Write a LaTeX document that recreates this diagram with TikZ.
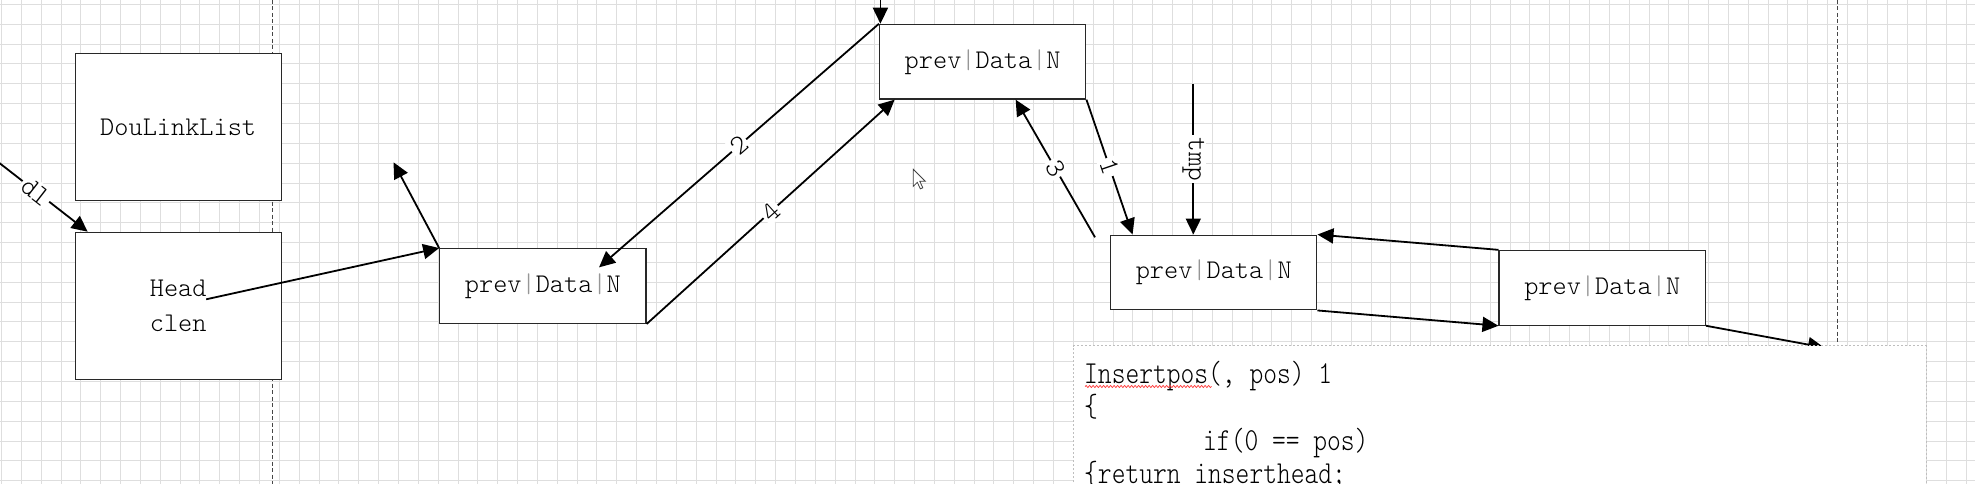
\documentclass[tikz,border=0pt]{standalone}
\usepackage{fontspec}
\usetikzlibrary{arrows.meta,calc,decorations.pathmorphing}
\newfontfamily\nodefont{lmmonolt10-regular.otf}
\newfontfamily\codefont{lmmonolt10-regular.otf}[FakeStretch=0.82]
\definecolor{gridc}{RGB}{222,222,222}
\definecolor{boxc}{RGB}{40,40,40}
\definecolor{barc}{RGB}{150,150,150}
\definecolor{dashc}{RGB}{70,70,70}
\definecolor{codebd}{RGB}{190,190,190}
\newcommand{\cellbar}{{\color{barc}|}}
\begin{document}
\begin{tikzpicture}[x=1pt,y=-1pt,
  gridline/.style={gridc,line width=0.9pt},
  sepline/.style={dashc,line width=1pt,dash pattern=on 4pt off 2.5pt},
  box/.style={draw=boxc,fill=white,line width=1.2pt,inner sep=0pt,font=\nodefont\fontsize{27}{35}\selectfont},
  bigbox/.style={box,minimum width=205.8pt,minimum height=147pt},
  cell/.style={box,minimum width=206.3pt,minimum height=74.7pt},
  link/.style={line width=1.8pt,-{Triangle[length=16pt,width=15pt]}},
  lab/.style={fill=white,inner sep=2pt,font=\nodefont\fontsize{28}{28}\selectfont},
  codeline/.style={anchor=base west,inner sep=0pt,font=\codefont\fontsize{32}{33}\selectfont}
]
\useasboundingbox (0,0) rectangle (1975,484);
\clip (0,0) rectangle (1975,484);
\fill[white] (0,0) rectangle (1975,484);
% grid
\foreach \i in {0,...,99} {\draw[gridline] ({1.4+19.85*\i},0) -- ({1.4+19.85*\i},484);}
\foreach \j in {0,...,24} {\draw[gridline] (0,{4.3+19.85*\j}) -- (1975,{4.3+19.85*\j});}
% separators
\draw[sepline] (272.7,0) -- (272.7,484);
\draw[sepline] (1837,0) -- (1837,484);
% nodes
\node[bigbox] (dll) at (178.2,127.3) {DouLinkList};
\node[bigbox,align=center] (head) at (178.2,305.8) {Head\\clen};
\node[cell] (n1) at (542.9,286) {prev\cellbar Data\cellbar N};
\node[cell] (n2) at (982.7,61.7) {prev\cellbar Data\cellbar N};
\node[cell] (n3) at (1213.7,272.5) {prev\cellbar Data\cellbar N};
\node[cell] (n4) at (1602.2,287.8) {prev\cellbar Data\cellbar N};
% free ends
\coordinate (dlfrom) at (-10,155.7);
\coordinate (hp) at (206.2,299.3);
\coordinate (upl) at (393.5,162.3);
\coordinate (topfrom) at (880.4,-5);
\coordinate (c3) at (1095,237.3);
\coordinate (tmpfrom) at (1193.3,84.3);
\coordinate (offend) at (1824,347.5);
% connectors
\draw[link] (dlfrom) -- node[lab,sloped,pos=0.47]{dl} ($(head.north west)+(13,0)$);
\draw[link] (hp) -- (n1.north west);
\draw[link] (n1.north west) -- (upl);
\draw[link] (topfrom) -- (topfrom |- n2.north);
\draw[link] (n2.north west) -- node[lab,sloped]{2} ($(n1.north west)+(159.9,19.3)$);
\draw[link] (n1.south east) -- node[lab,sloped]{4} ($(n2.south west)+(15.7,0)$);
\draw[link] (c3) -- node[lab,sloped]{3} ($(n2.south west)+(136.7,0)$);
\draw[link] (n2.south east) -- node[lab,sloped]{1} ($(n3.north west)+(22.6,0)$);
\draw[link] (tmpfrom) -- node[lab,rotate=-90]{tmp} (tmpfrom |- n3.north);
\draw[link] (n4.north west) -- (n3.north east);
\draw[link] (n3.south east) -- (n4.south west);
\draw[link] (n4.south east) -- (offend);
% cursor
\draw[fill=white,draw=black!75,line width=0.8pt,line join=miter] (913.3,169.3) -- ++(0,17) -- ++(4,-4) -- ++(3,6.5) -- ++(2.5,-1) -- ++(-3,-6.5) -- ++(5.5,0) -- cycle;
% code box
\fill[white] (1073.3,345.7) rectangle (1926,490);
\draw[codebd,line width=0.9pt,dash pattern=on 2pt off 2pt] (1073.3,490) -- (1073.3,345.7) -- (1926,345.7) -- (1926,490);
\node[codeline] (cl1) at (1084,383.5) {Insertpos(, pos) 1};
\node[codeline] (cl2) at (1084,416.8) {\{};
\node[codeline] (cl3) at (1203,450.1) {if(0 == pos)};
\node[codeline] (cl4) at (1084,483.4) {\{return inserthead;};
\draw[red!80,line width=0.7pt,decorate,decoration={snake,amplitude=1pt,segment length=3.5pt}] (1085,386.5) -- (1211.7,386.5);
\end{tikzpicture}
\end{document}
